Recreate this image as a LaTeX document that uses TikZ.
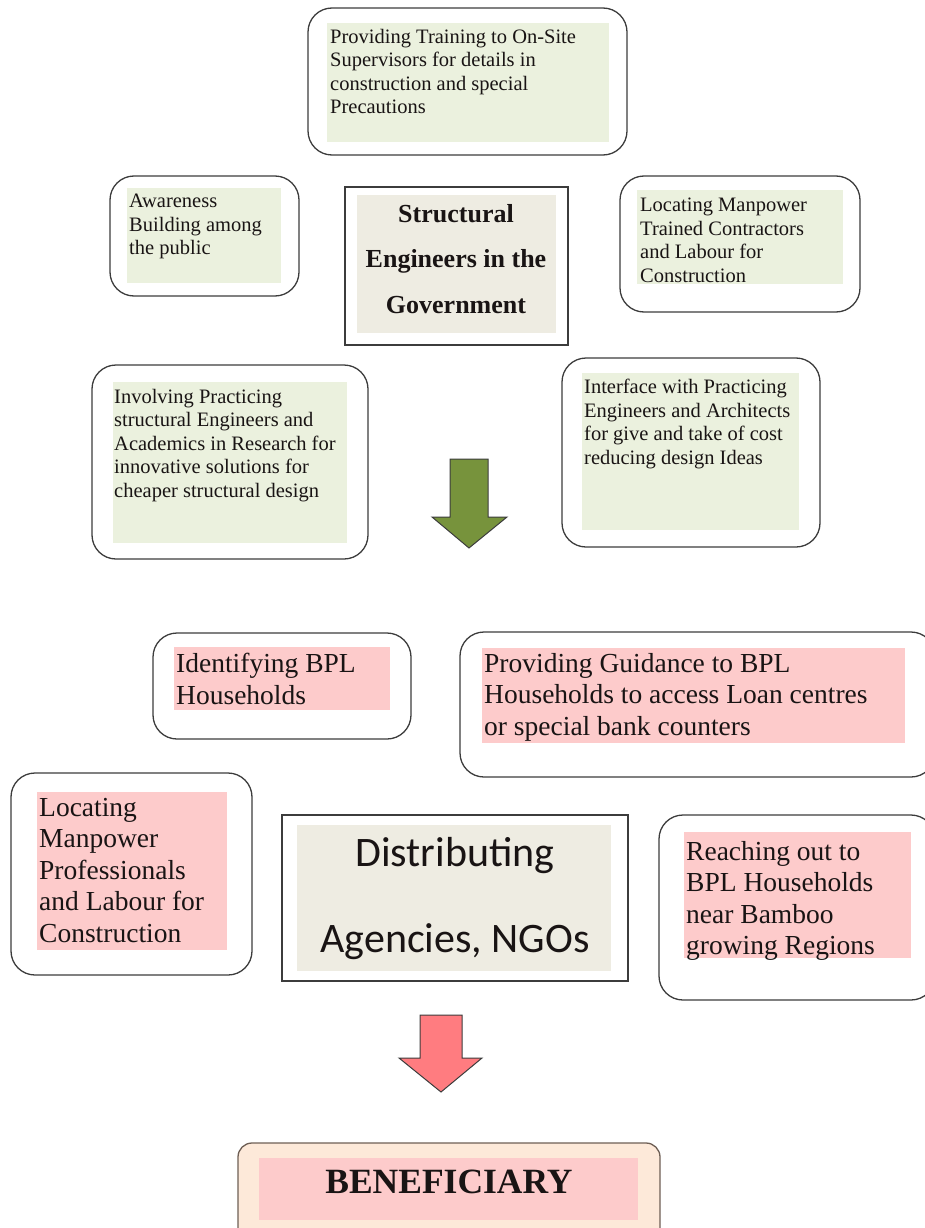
\documentclass[tikz,border=0pt]{standalone}
\usepackage{fontspec}
\setmainfont{Liberation Serif}
\newfontfamily\calib{Carlito}
\definecolor{greenfill}{RGB}{235,241,222}
\definecolor{pinkfill}{RGB}{253,203,203}
\definecolor{beigefill}{RGB}{238,236,226}
\definecolor{peachfill}{RGB}{253,233,217}
\definecolor{arrowgreen}{RGB}{119,147,60}
\definecolor{arrowred}{RGB}{255,124,128}
\definecolor{edge}{RGB}{60,60,60}
\definecolor{inktext}{RGB}{25,20,20}
\tikzset{
  outerbox/.style={draw=edge, line width=1.3pt, rounded corners=24pt},
  plainbox/.style={draw=edge, line width=1.3pt},
  fillg/.style={fill=greenfill},
  fillp/.style={fill=pinkfill},
  smalltxt/.style={anchor=north west, align=left, inner sep=0pt, text=inktext,
     font=\fontsize{20.5}{23.5}\selectfont},
  bigtxt/.style={anchor=north west, align=left, inner sep=0pt, text=inktext,
     font=\fontsize{27.5}{31.5}\selectfont},
  blockarrow/.style={draw=edge, line width=1pt, line join=miter},
}
\begin{document}
\begin{tikzpicture}[x=1pt,y=-1pt]
\useasboundingbox (0,0) rectangle (925,1228);
\clip (0,0) rectangle (925,1228);

% ---- top box
\draw[outerbox] (308,8) rectangle (627,155);
\fill[fillg] (327,23) rectangle (609,142);
\node[smalltxt] (t1) at (330,29) {Providing Training to On-Site\\Supervisors for details in\\construction and special\\Precautions};

% ---- awareness
\draw[outerbox] (110,176) rectangle (299,296);
\fill[fillg] (127,188) rectangle (281,283);
\node[smalltxt] (t2) at (129,194) {Awareness\\Building among\\the public};

% ---- structural engineers
\draw[plainbox] (345,187) rectangle (568,345);
\fill[fill=beigefill] (357,195) rectangle (556,333);
\node[anchor=center, align=center, inner sep=0pt, text=inktext,
  font=\fontsize{26}{45.5}\selectfont\bfseries] (se) at (456,259) {Structural\\Engineers in the\\Government};

% ---- locating manpower trained
\draw[outerbox] (620,176) rectangle (860,312);
\fill[fillg] (637,190) rectangle (843,284);
\node[smalltxt] (t3) at (640,198) {Locating Manpower\\Trained Contractors\\and Labour for\\Construction};

% ---- involving
\draw[outerbox] (92,365) rectangle (368,559);
\fill[fillg] (113,382) rectangle (347,543);
\node[smalltxt] (t4) at (114,389) {Involving Practicing\\structural Engineers and\\Academics in Research for\\innovative solutions for\\cheaper structural design};

% ---- interface
\draw[outerbox] (562,358) rectangle (820,547);
\fill[fillg] (582,373) rectangle (799,530);
\node[smalltxt] (t5) at (584,379) {Interface with Practicing\\Engineers and Architects\\for give and take of cost\\reducing design Ideas};

% ---- green arrow
\filldraw[blockarrow, fill=arrowgreen] (450,459) -- (488,459) -- (488,517) -- (507,517)
  -- (469,548) -- (432,517) -- (450,517) -- cycle;

% ---- identifying BPL
\draw[outerbox] (153,633) rectangle (411,739);
\fill[fillp] (174,647) rectangle (390,710);
\node[bigtxt] (b1) at (176,653) {Identifying BPL\\Households};

% ---- providing guidance
\draw[outerbox] (460,632) rectangle (935,777);
\fill[fillp] (482,648) rectangle (905,743);
\node[bigtxt] (b2) at (484,653) {Providing Guidance to BPL\\Households to access Loan centres\\or special bank counters};

% ---- locating professionals
\draw[outerbox] (11,773) rectangle (252,975);
\fill[fillp] (37,792) rectangle (227,950);
\node[bigtxt] (b3) at (39,798) {Locating\\Manpower\\Professionals\\and Labour for\\Construction};

% ---- distributing agencies
\draw[plainbox] (282,815) rectangle (628,981);
\fill[fill=beigefill] (297,825) rectangle (611,971);
\node[anchor=base, inner sep=0pt, text=inktext, font=\calib\fontsize{42}{48}\selectfont] (d1) at (455,866) {Distributing};
\node[anchor=base, inner sep=0pt, text=inktext, font=\calib\fontsize{42}{48}\selectfont] (d2) at (455,952) {Agencies, NGOs};

% ---- reaching out
\draw[outerbox] (659,815) rectangle (935,1000);
\fill[fillp] (684,832) rectangle (911,958);
\node[bigtxt] (b4) at (686,841) {Reaching out to\\BPL Households\\near Bamboo\\growing Regions};

% ---- red arrow
\filldraw[blockarrow, fill=arrowred] (420,1015) -- (462,1015) -- (462,1058) -- (482,1058)
  -- (441,1092) -- (399,1058) -- (420,1058) -- cycle;

% ---- beneficiary
\draw[outerbox, fill=peachfill, draw={rgb,255:red,110;green,95;blue,85}, rounded corners=14pt] (238,1143) rectangle (660,1260);
\fill[fillp] (259,1158) rectangle (638,1220);
\node[anchor=base, inner sep=0pt, text=inktext, font=\fontsize{35.5}{40}\selectfont\bfseries] (ben) at (449,1193) {BENEFICIARY};
\end{tikzpicture}
\end{document}
